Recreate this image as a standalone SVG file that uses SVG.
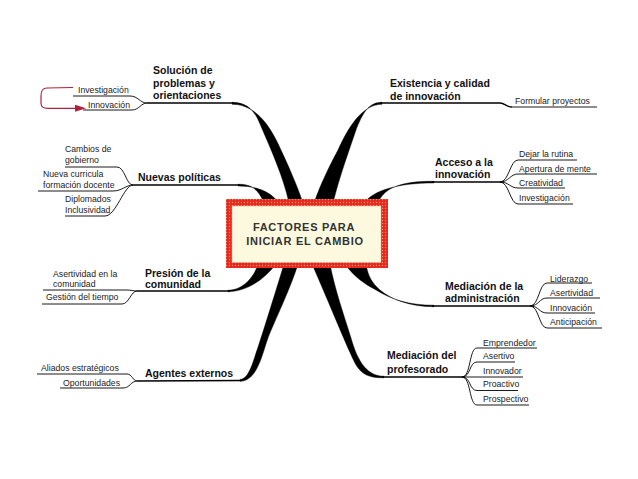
<svg xmlns="http://www.w3.org/2000/svg" width="638" height="479" viewBox="0 0 638 479">
<defs>
<style>
.node{font-family:"Liberation Sans",Arial,sans-serif;font-weight:bold;font-size:10.5px;fill:#111}
.leaf{font-family:"Liberation Sans",Arial,sans-serif;font-size:8.7px;fill:#222}
.ul{fill:none;stroke:#000;stroke-width:1.4}
.sl{fill:none;stroke:#000;stroke-width:0.9}
.br{fill:#000;stroke:#000;stroke-width:0.4}
.title{font-family:"Liberation Sans",Arial,sans-serif;font-weight:bold;font-size:11px;letter-spacing:0.7px;fill:#333;text-anchor:middle}
</style>
<pattern id="dots" width="3" height="3" patternUnits="userSpaceOnUse">
<rect width="3" height="3" fill="#e6281f"/>
<circle cx="1.5" cy="1.5" r="0.7" fill="#f79060"/>
</pattern>
</defs>
<rect width="638" height="479" fill="#fff"/>

<g id="connectors">
<!-- main tapered branches -->
<path class="br" d="M232,102.3 C248,102 255,112 260,124 C268,143 283,175 289,203 L303,203 C297,185 288,165 281,150 C272,130 258,104.3 232,104.3 Z"/>
<path class="br" d="M382,102.3 C368,102 362,115 356,130 C350,148 340,175 333,203 L314,203 C320,185 330,165 338,150 C348,128 362,104.3 382,104.3 Z"/>
<path class="br" d="M238,184.3 C250,184 258,188 264,203 L279,203 C270,191 256,186 238,186 Z"/>
<path class="br" d="M434,181.3 C405,181 385,186 378,203 L364,203 C374,190 398,183 434,183 Z"/>
<path class="br" d="M228,291.8 C245,291.5 262,282 276,264 L258,264 C254,278 242,290.2 228,290.2 Z"/>
<path class="br" d="M240,379.5 C246,379 249,372 252,365 C258,348 270,310 284,264 L298,264 C290,290 275,320 268,338 C262,355 257,381.3 240,381.3 Z"/>
<path class="br" d="M384,377.8 C370,378 362,375 356,365 C348,350 330,305 312,264 L330,264 C335,290 344,315 351,338 C356,355 364,376.2 384,376.2 Z"/>
<path class="br" d="M434,306.8 C410,306.5 392,300 380,290 C372,283 368,276 366,264 L345,264 C355,278 365,284 376,290 C392,300 410,305.2 434,305.2 Z"/>

<!-- node underlines -->
<path class="ul" d="M147,103 L234,103"/>
<path class="ul" d="M380,103 L500,103 C505,103 506,107 512,107"/>
<path class="sl" d="M512,107 L597,107"/>
<path class="ul" d="M133,185 L240,185"/>
<path class="ul" d="M432,182 L500,182"/>
<path class="ul" d="M137,291 L230,291"/>
<path class="ul" d="M432,306 L530,306"/>
<path class="ul" d="M137,381 L242,380.5"/>
<path class="ul" d="M382,377 L462,377"/>

<!-- leaf lines: Solución -->
<path class="sl" d="M73,96 L130,96 C138,96 140,103 147,103"/>
<path class="sl" d="M83,110 L132,110 C139,110 141,103 147,103"/>
<!-- Nuevas políticas -->
<path class="sl" d="M65,167 L117,167 C125,167 126,185 133,185"/>
<path class="sl" d="M38,191 L113,191 C122,191 126,185 133,185"/>
<path class="sl" d="M65,216 L105,216 C116,216 124,185 133,185"/>
<!-- Acceso -->
<path class="sl" d="M500,182 C509,182 510,160 518,160 L577,160"/>
<path class="sl" d="M500,182 C509,182 510,174 518,174 L597,174"/>
<path class="sl" d="M500,182 C509,182 510,188 518,188 L565,188"/>
<path class="sl" d="M500,182 C509,182 510,204 518,204 L573,204"/>
<!-- Presión -->
<path class="sl" d="M43,290 L127,290 C131,290 133,291 137,291"/>
<path class="sl" d="M42,304 L122,304 C129,304 131,291 137,291"/>
<!-- Mediación administración -->
<path class="sl" d="M530,306 C539,306 539,283 547,283 L592,283"/>
<path class="sl" d="M530,306 C539,306 539,298 547,298 L600,298"/>
<path class="sl" d="M530,306 C539,306 539,313 547,313 L595,313"/>
<path class="sl" d="M530,306 C539,306 539,328 547,328 L602,328"/>
<!-- Agentes -->
<path class="sl" d="M37,374 L127,374 C132,374 133,381 137,381"/>
<path class="sl" d="M60,388 L123,388 C130,388 131,381 137,381"/>
<!-- Mediación profesorado -->
<path class="sl" d="M462,377 C471,377 469,348 477,348 L537,348"/>
<path class="sl" d="M462,377 C471,377 469,362 477,362 L515,362"/>
<path class="sl" d="M462,377 L523,377"/>
<path class="sl" d="M462,377 C471,377 469,390.5 477,390.5 L518,390.5"/>
<path class="sl" d="M462,377 C471,377 469,405 477,405 L529,405"/>

<!-- red loop arrow -->
<path d="M73,87.5 L47,88 C42,88 41,91 41,96 L41,103 C41,107 43,108.3 48,108.3 L77,108.3" fill="none" stroke="#b0203a" stroke-width="1.2"/>
<path d="M75,104.8 L86,108.3 L75,111.8 Z" fill="#b0203a"/>
</g>

<g id="center">
<rect x="226" y="199" width="162" height="69" fill="url(#dots)"/>
<rect x="232" y="206" width="149" height="56.5" fill="#fdf9df" stroke="#d8a898" stroke-width="0.5"/>
<text class="title" x="304" y="230.7">FACTORES PARA</text>
<text class="title" x="305" y="244.5">INICIAR EL CAMBIO</text>
</g>

<g id="n-solucion">
<text class="node" x="153" y="74">Solución de</text>
<text class="node" x="153" y="86.7">problemas y</text>
<text class="node" x="153" y="99.3">orientaciones</text>
<text class="leaf" x="78" y="93">Investigación</text>
<text class="leaf" x="88" y="107.5">Innovación</text>
</g>

<g id="n-existencia">
<text class="node" x="390" y="87">Existencia y calidad</text>
<text class="node" x="390" y="100">de innovación</text>
<text class="leaf" x="515" y="104">Formular proyectos</text>
</g>

<g id="n-nuevas">
<text class="node" x="138" y="181">Nuevas políticas</text>
<text class="leaf" x="65" y="152">Cambios de</text>
<text class="leaf" x="65" y="163">gobierno</text>
<text class="leaf" x="43" y="177">Nueva curricula</text>
<text class="leaf" x="43" y="188">formación docente</text>
<text class="leaf" x="65" y="202">Diplomados</text>
<text class="leaf" x="65" y="213">Inclusividad</text>
</g>

<g id="n-acceso">
<text class="node" x="435" y="166">Acceso a la</text>
<text class="node" x="435" y="177.7">innovación</text>
<text class="leaf" x="519" y="157">Dejar la rutina</text>
<text class="leaf" x="519" y="171.5">Apertura de mente</text>
<text class="leaf" x="519" y="185.7">Creatividad</text>
<text class="leaf" x="519" y="201">Investigación</text>
</g>

<g id="n-presion">
<text class="node" x="145" y="277">Presión de la</text>
<text class="node" x="145" y="288">comunidad</text>
<text class="leaf" x="53" y="277">Asertividad en la</text>
<text class="leaf" x="53" y="287">comunidad</text>
<text class="leaf" x="46" y="300">Gestión del tiempo</text>
</g>

<g id="n-administracion">
<text class="node" x="445" y="290">Mediación de la</text>
<text class="node" x="445" y="302">administración</text>
<text class="leaf" x="550" y="281.5">Liderazgo</text>
<text class="leaf" x="550" y="296">Asertividad</text>
<text class="leaf" x="550" y="311">Innovación</text>
<text class="leaf" x="550" y="324.5">Anticipación</text>
</g>

<g id="n-agentes">
<text class="node" x="145" y="377">Agentes externos</text>
<text class="leaf" x="41" y="371">Aliados estratégicos</text>
<text class="leaf" x="63" y="386">Oportunidades</text>
</g>

<g id="n-profesorado">
<text class="node" x="387" y="359">Mediación del</text>
<text class="node" x="387" y="372.5">profesorado</text>
<text class="leaf" x="483" y="345.7">Emprendedor</text>
<text class="leaf" x="483" y="359.3">Asertivo</text>
<text class="leaf" x="483" y="374.3">Innovador</text>
<text class="leaf" x="483" y="387.3">Proactivo</text>
<text class="leaf" x="483" y="401.7">Prospectivo</text>
</g>
</svg>
